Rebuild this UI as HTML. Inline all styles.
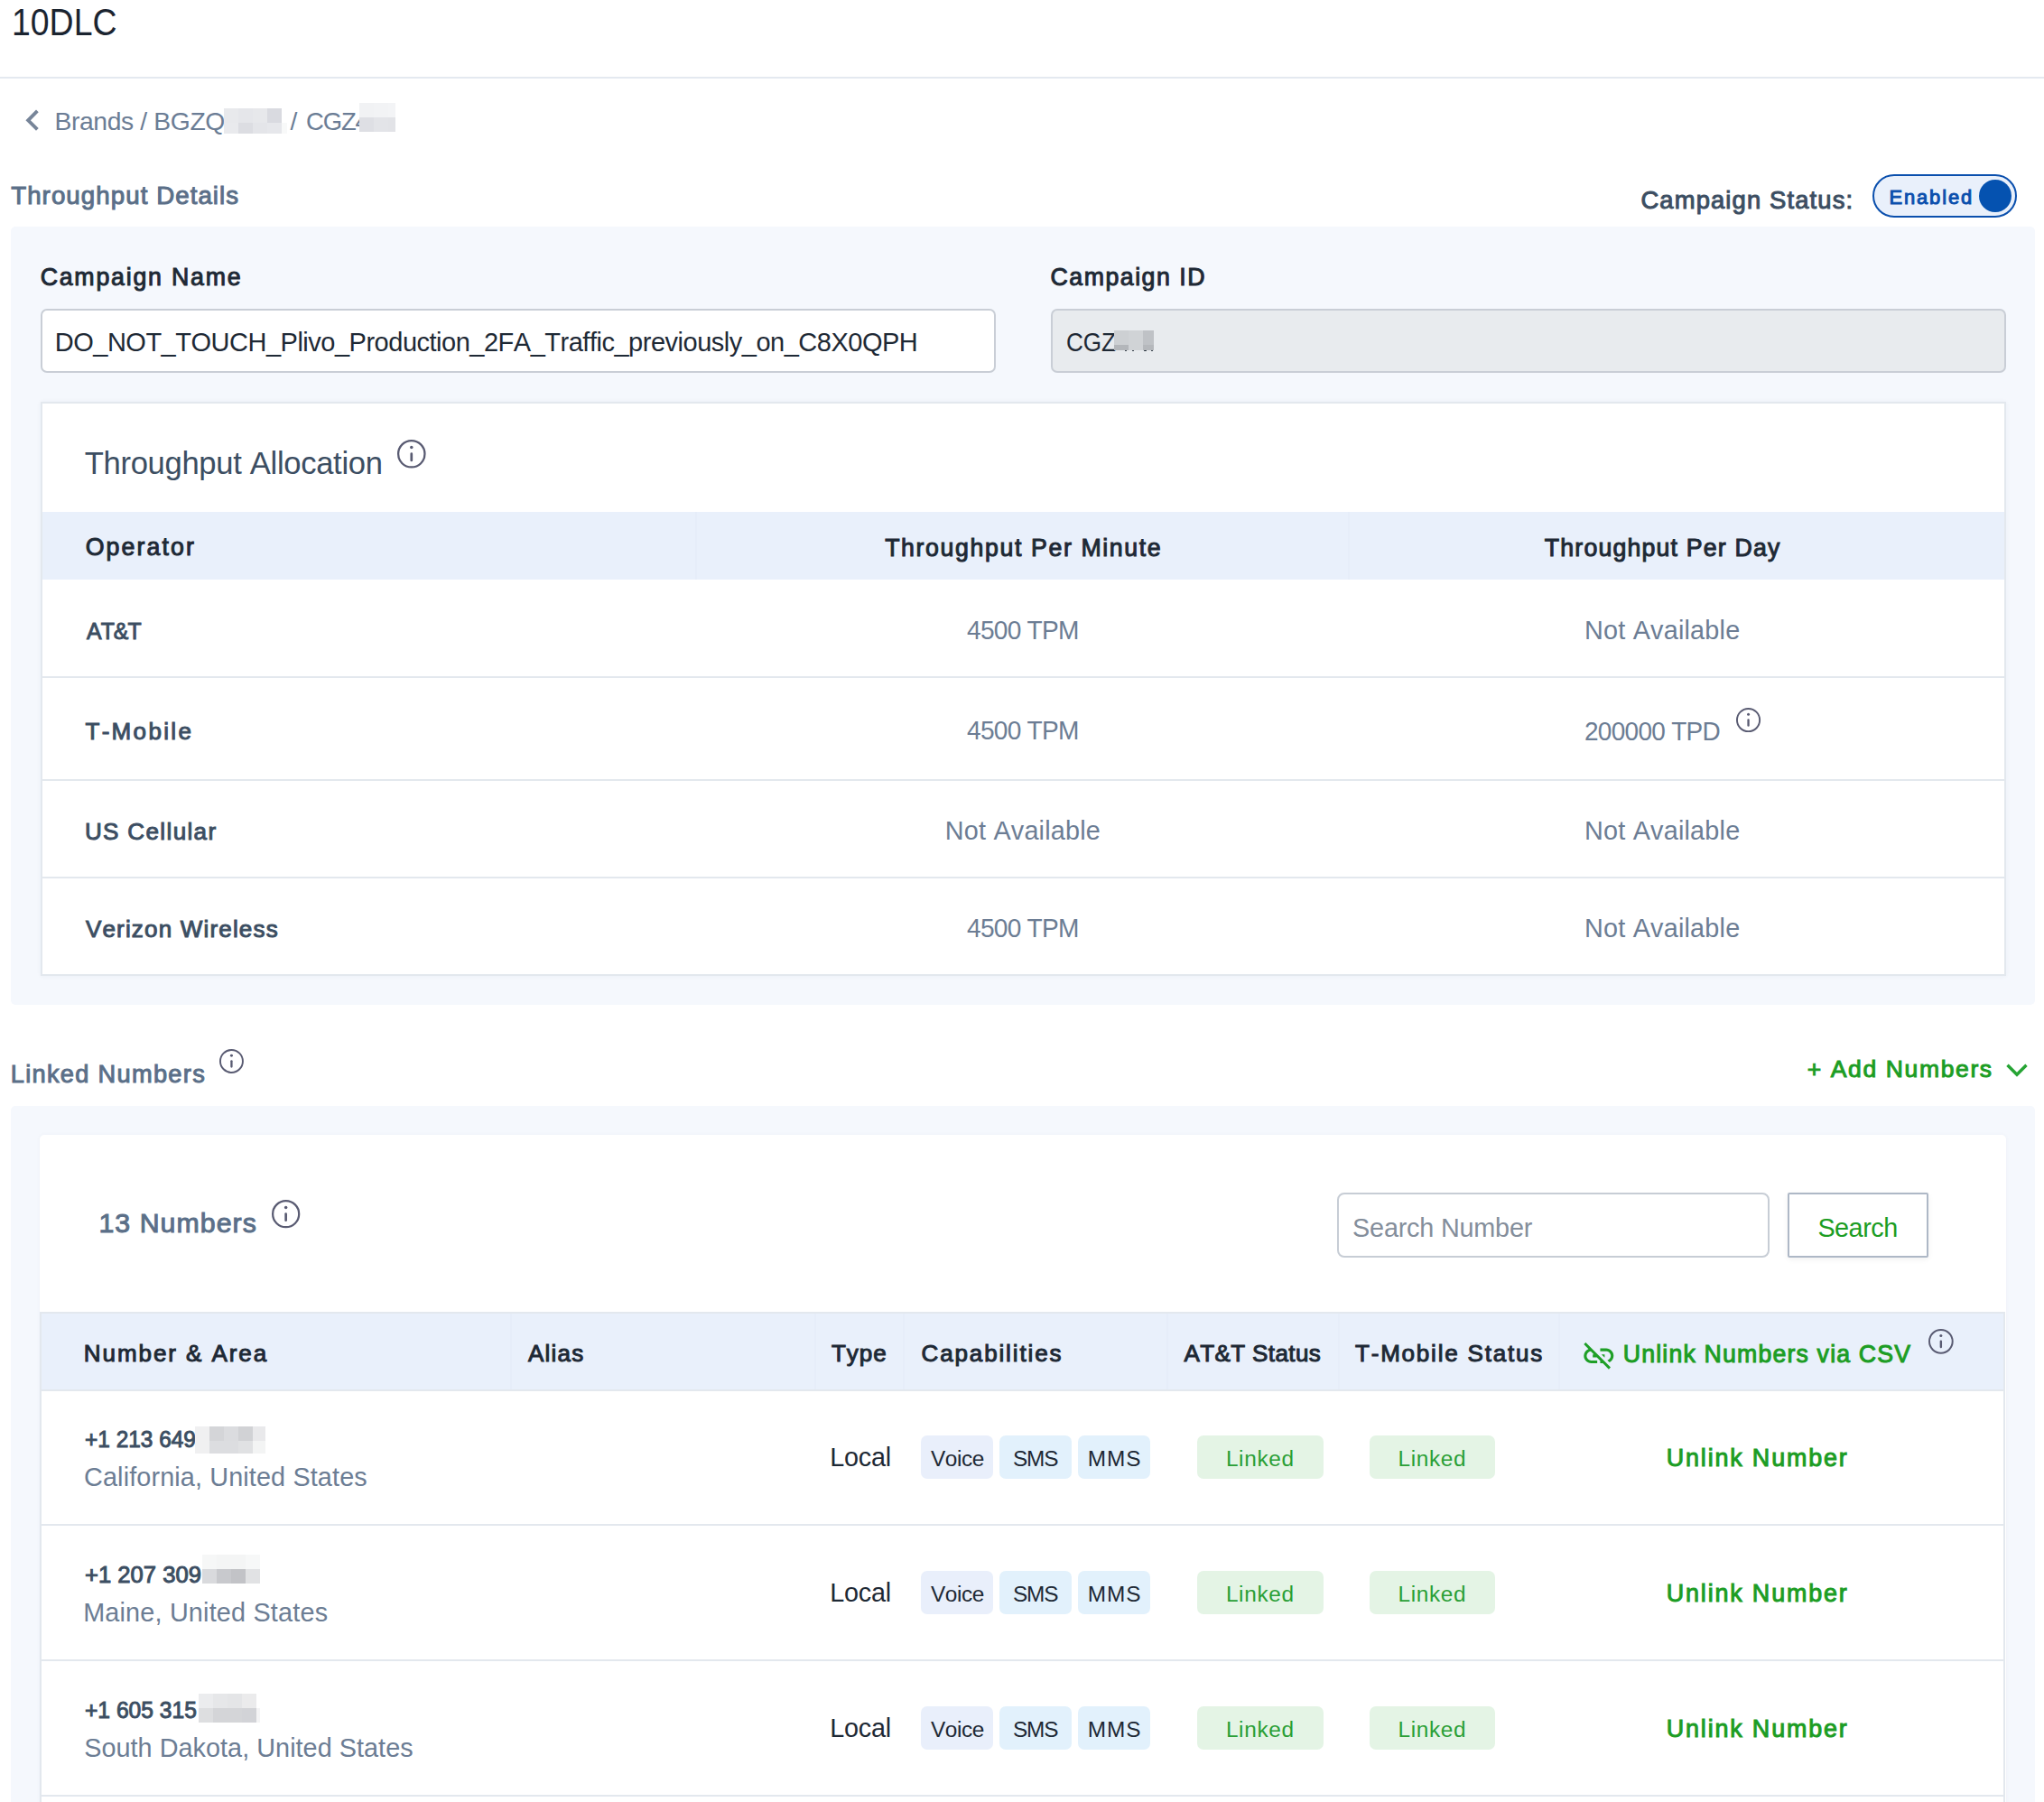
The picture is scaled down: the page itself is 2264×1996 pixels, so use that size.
<!DOCTYPE html>
<html><head><meta charset="utf-8"><title>10DLC</title>
<style>
html,body{margin:0;padding:0;}
body{width:2264px;height:1996px;position:relative;overflow:hidden;background:#fff;font-family:"Liberation Sans",sans-serif;}
.t{position:absolute;white-space:pre;font-kerning:none;font-variant-ligatures:none;}
.b{position:absolute;}
</style></head><body>
<span class="t" style="left:13.05px;top:2.85px;font-size:42.6px;line-height:42.6px;color:#1b2430;transform:scaleX(0.8784);transform-origin:0 0;">10DLC</span>
<div class="b" style="left:0px;top:85px;width:2264px;height:2px;background:#e4e9f0"></div>
<svg class="b" style="left:12.8px;top:109.8px" width="46.3" height="46.3" viewBox="0 0 24 24"><path d="M15.41 7.41L14 6l-6 6 6 6 1.41-1.41L10.83 12z" fill="#778599"/></svg>
<span class="t" style="left:60.48px;top:120.0px;font-size:28.3px;line-height:28.3px;color:#6b7d95;letter-spacing:-0.38px;">Brands / BGZQ</span>
<div class="b" style="left:248px;top:120px;width:16px;height:16px;background:#e8e9ec"></div>
<div class="b" style="left:248px;top:136px;width:16px;height:12px;background:#e9eaed"></div>
<div class="b" style="left:264px;top:120px;width:16px;height:16px;background:#e5e6ea"></div>
<div class="b" style="left:264px;top:136px;width:16px;height:12px;background:#dcdde2"></div>
<div class="b" style="left:280px;top:120px;width:16px;height:16px;background:#e7e8eb"></div>
<div class="b" style="left:280px;top:136px;width:16px;height:12px;background:#e4e5e9"></div>
<div class="b" style="left:296px;top:120px;width:16px;height:16px;background:#d9dae0"></div>
<div class="b" style="left:296px;top:136px;width:16px;height:12px;background:#e6e7eb"></div>
<span class="t" style="left:321.5px;top:120.0px;font-size:28.3px;line-height:28.3px;color:#6b7d95;">/</span>
<span class="t" style="left:338.51px;top:120.0px;font-size:28.3px;line-height:28.3px;color:#6b7d95;letter-spacing:-1.18px;transform:scaleX(0.9701);transform-origin:0 0;">CGZ4</span>
<div class="b" style="left:398px;top:114px;width:16px;height:16px;background:#f1f2f4"></div>
<div class="b" style="left:398px;top:130px;width:16px;height:15.5px;background:#dedfe4"></div>
<div class="b" style="left:414px;top:114px;width:16px;height:16px;background:#f2f3f5"></div>
<div class="b" style="left:414px;top:130px;width:16px;height:15.5px;background:#e3e4e8"></div>
<div class="b" style="left:430px;top:114px;width:8px;height:16px;background:#f3f4f6"></div>
<div class="b" style="left:430px;top:130px;width:8px;height:15.5px;background:#e2e3e7"></div>
<div class="b" style="left:312px;top:136px;width:5.6px;height:12px;background:#f8f9f9"></div>
<span class="t" style="left:12.18px;top:203.31px;font-size:27.69px;line-height:27.69px;color:#5b6f88;-webkit-text-stroke:1.0px #5b6f88;letter-spacing:1.06px;">Throughput Details</span>
<span class="t" style="left:1817.41px;top:208.45px;font-size:27.4px;line-height:27.4px;color:#3c4e62;-webkit-text-stroke:1.0px #3c4e62;letter-spacing:1.13px;">Campaign Status:</span>
<div class="b" style="left:2074px;top:193px;width:160px;height:47.6px;background:#e9f0fb;border:2.2px solid #0a4fad;border-radius:24px;box-sizing:border-box"></div>
<div class="b" style="left:2192px;top:199px;width:36px;height:36px;background:#0552b0;border-radius:50%"></div>
<span class="t" style="left:2092.5px;top:208.19px;font-size:21.92px;line-height:21.92px;color:#0a4fad;-webkit-text-stroke:1.0px #0a4fad;letter-spacing:1.88px;">Enabled</span>
<div class="b" style="left:12px;top:251px;width:2242px;height:862px;background:#f5f8fd;border-radius:5px"></div>
<span class="t" style="left:44.64px;top:294.29px;font-size:26.72px;line-height:26.72px;color:#1e2935;-webkit-text-stroke:1.0px #1e2935;letter-spacing:1.79px;">Campaign Name</span>
<span class="t" style="left:1163.54px;top:294.29px;font-size:26.72px;line-height:26.72px;color:#1e2935;-webkit-text-stroke:1.0px #1e2935;letter-spacing:1.5px;">Campaign ID</span>
<div class="b" style="left:45px;top:341.5px;width:1057.5px;height:71.0px;background:#fff;border:2px solid #c9ced6;border-radius:7px;box-sizing:border-box"></div>
<div class="b" style="left:1163.5px;top:341.5px;width:1058.0px;height:71.0px;background:#e8ebee;border:2px solid #c9ced6;border-radius:7px;box-sizing:border-box"></div>
<span class="t" style="left:60.72px;top:364.65px;font-size:29px;line-height:29px;color:#1e2935;letter-spacing:-0.49px;">DO_NOT_TOUCH_Plivo_Production_2FA_Traffic_previously_on_C8X0QPH</span>
<span class="t" style="left:1181.28px;top:364.65px;font-size:29px;line-height:29px;color:#1e2935;transform:scaleX(0.8991);transform-origin:0 0;">CGZ</span>
<div class="b" style="left:1234.2px;top:366px;width:15.8px;height:16px;background:#cdd0d3"></div>
<div class="b" style="left:1234.2px;top:382px;width:15.8px;height:5.6px;background:#b3b6ba"></div>
<div class="b" style="left:1250px;top:366px;width:16px;height:16px;background:#d0d3d6"></div>
<div class="b" style="left:1250px;top:382px;width:16px;height:5.6px;background:#d0d3d6"></div>
<div class="b" style="left:1266px;top:366px;width:12px;height:16px;background:#bfc2c6"></div>
<div class="b" style="left:1266px;top:382px;width:12px;height:5.6px;background:#b5b8bc"></div>
<div class="b" style="left:1245.7px;top:387.6px;width:2.4px;height:1.8px;background:#1e2935;border-radius:1px"></div>
<div class="b" style="left:1254.0px;top:387.6px;width:2.4px;height:1.8px;background:#1e2935;border-radius:1px"></div>
<div class="b" style="left:1267.2px;top:387.6px;width:2.4px;height:1.8px;background:#1e2935;border-radius:1px"></div>
<div class="b" style="left:1275.1px;top:387.6px;width:2.4px;height:1.8px;background:#1e2935;border-radius:1px"></div>
<div class="b" style="left:44.5px;top:445px;width:2177.0px;height:635.5px;background:#fff;border:2px solid #e3e8ee;box-sizing:border-box;box-shadow:0 0 5px rgba(40,60,100,0.05)"></div>
<span class="t" style="left:93.72px;top:495.85px;font-size:34.6px;line-height:34.6px;color:#3c4e62;letter-spacing:-0.31px;">Throughput Allocation</span>
<svg class="b" style="left:437.6px;top:485.2px" width="35.6" height="35.6" viewBox="0 0 35.6 35.6"><circle cx="17.8" cy="17.8" r="14.68" fill="none" stroke="#595b72" stroke-width="2.25"/><circle cx="17.8" cy="10.5" r="1.75" fill="#595b72"/><line x1="17.8" y1="17.65" x2="17.8" y2="24.95" stroke="#595b72" stroke-width="2.7" stroke-linecap="round"/></svg>
<div class="b" style="left:46.5px;top:567px;width:2173.0px;height:75px;background:#e9f0fb"></div>
<div class="b" style="left:769.5px;top:567px;width:2.0px;height:75px;background:#e6edf9"></div>
<div class="b" style="left:1493px;top:567px;width:2px;height:75px;background:#e6edf9"></div>
<span class="t" style="left:94.63px;top:593.29px;font-size:26.72px;line-height:26.72px;color:#1e2935;-webkit-text-stroke:1.0px #1e2935;letter-spacing:2.11px;">Operator</span>
<span class="t" style="left:980.2px;top:594.29px;font-size:26.72px;line-height:26.72px;color:#1e2935;-webkit-text-stroke:1.0px #1e2935;letter-spacing:1.61px;">Throughput Per Minute</span>
<span class="t" style="left:1710.8px;top:594.29px;font-size:26.72px;line-height:26.72px;color:#1e2935;-webkit-text-stroke:1.0px #1e2935;letter-spacing:1.17px;">Throughput Per Day</span>
<div class="b" style="left:46.5px;top:749px;width:2173.0px;height:2px;background:#e3e8ee"></div>
<div class="b" style="left:46.5px;top:863px;width:2173.0px;height:2px;background:#e3e8ee"></div>
<div class="b" style="left:46.5px;top:971px;width:2173.0px;height:2px;background:#e3e8ee"></div>
<span class="t" style="left:95.83px;top:685.63px;font-size:26.04px;line-height:26.04px;color:#3c4e62;-webkit-text-stroke:1.0px #3c4e62;letter-spacing:-0.94px;transform:scaleX(0.9518);transform-origin:0 0;">AT&amp;T</span>
<span class="t" style="left:94.42px;top:796.63px;font-size:26.04px;line-height:26.04px;color:#3c4e62;-webkit-text-stroke:1.0px #3c4e62;letter-spacing:2.32px;">T-Mobile</span>
<span class="t" style="left:93.89px;top:907.63px;font-size:26.04px;line-height:26.04px;color:#3c4e62;-webkit-text-stroke:1.0px #3c4e62;letter-spacing:1.36px;">US Cellular</span>
<span class="t" style="left:94.89px;top:1015.63px;font-size:26.04px;line-height:26.04px;color:#3c4e62;-webkit-text-stroke:1.0px #3c4e62;letter-spacing:1.17px;">Verizon Wireless</span>
<span class="t" style="left:1070.86px;top:683.75px;font-size:28.8px;line-height:28.8px;color:#6c7d94;letter-spacing:-0.76px;transform:scaleX(0.9758);transform-origin:0 0;">4500 TPM</span>
<span class="t" style="left:1755.09px;top:683.75px;font-size:28.8px;line-height:28.8px;color:#6c7d94;letter-spacing:0.2px;">Not Available</span>
<span class="t" style="left:1070.86px;top:794.75px;font-size:28.8px;line-height:28.8px;color:#6c7d94;letter-spacing:-0.76px;transform:scaleX(0.9758);transform-origin:0 0;">4500 TPM</span>
<span class="t" style="left:1754.59px;top:795.75px;font-size:28.8px;line-height:28.8px;color:#6c7d94;letter-spacing:-0.73px;transform:scaleX(0.9715);transform-origin:0 0;">200000 TPD</span>
<svg class="b" style="left:1920.75px;top:781.95px" width="31.1" height="31.1" viewBox="0 0 31.1 31.1"><circle cx="15.55" cy="15.55" r="12.59" fill="none" stroke="#595b72" stroke-width="1.93"/><circle cx="15.55" cy="9.29" r="1.5" fill="#595b72"/><line x1="15.55" y1="15.42" x2="15.55" y2="21.68" stroke="#595b72" stroke-width="2.32" stroke-linecap="round"/></svg>
<span class="t" style="left:1046.79px;top:905.75px;font-size:28.8px;line-height:28.8px;color:#6c7d94;letter-spacing:0.2px;">Not Available</span>
<span class="t" style="left:1755.09px;top:905.75px;font-size:28.8px;line-height:28.8px;color:#6c7d94;letter-spacing:0.2px;">Not Available</span>
<span class="t" style="left:1070.86px;top:1013.75px;font-size:28.8px;line-height:28.8px;color:#6c7d94;letter-spacing:-0.76px;transform:scaleX(0.9758);transform-origin:0 0;">4500 TPM</span>
<span class="t" style="left:1755.09px;top:1013.75px;font-size:28.8px;line-height:28.8px;color:#6c7d94;letter-spacing:0.2px;">Not Available</span>
<span class="t" style="left:11.77px;top:1175.55px;font-size:27.21px;line-height:27.21px;color:#5b6f88;-webkit-text-stroke:1.0px #5b6f88;letter-spacing:1.3px;">Linked Numbers</span>
<svg class="b" style="left:241.45px;top:1160.25px" width="30.9" height="30.9" viewBox="0 0 30.9 30.9"><circle cx="15.45" cy="15.45" r="12.49" fill="none" stroke="#595b72" stroke-width="1.92"/><circle cx="15.45" cy="9.24" r="1.49" fill="#595b72"/><line x1="15.45" y1="15.32" x2="15.45" y2="21.54" stroke="#595b72" stroke-width="2.3" stroke-linecap="round"/></svg>
<span class="t" style="left:2001.7px;top:1171.38px;font-size:26.53px;line-height:26.53px;color:#1c9d24;-webkit-text-stroke:1.0px #1c9d24;letter-spacing:1.62px;">+ Add Numbers</span>
<svg class="b" style="left:2218px;top:1174px" width="32" height="22" viewBox="0 0 32 22"><polyline points="5.5,5.8 16,16.3 26.5,5.8" fill="none" stroke="#26a434" stroke-width="3.4"/></svg>
<div class="b" style="left:12px;top:1225px;width:2242px;height:875px;background:#f5f8fd;border-radius:5px"></div>
<div class="b" style="left:44px;top:1257px;width:2178px;height:843px;background:#fff;border-radius:5px;box-shadow:0 0 5px rgba(40,60,100,0.04)"></div>
<span class="t" style="left:109.49px;top:1340.0px;font-size:30.31px;line-height:30.31px;color:#5b6f88;-webkit-text-stroke:1.0px #5b6f88;letter-spacing:1.03px;">13 Numbers</span>
<svg class="b" style="left:299.35px;top:1327.25px" width="35.3" height="35.3" viewBox="0 0 35.3 35.3"><circle cx="17.65" cy="17.65" r="14.54" fill="none" stroke="#595b72" stroke-width="2.23"/><circle cx="17.65" cy="10.42" r="1.73" fill="#595b72"/><line x1="17.65" y1="17.5" x2="17.65" y2="24.73" stroke="#595b72" stroke-width="2.67" stroke-linecap="round"/></svg>
<div class="b" style="left:1480.5px;top:1321.3px;width:479.5px;height:71.3px;background:#fff;border:2px solid #c7cdd5;border-radius:8px;box-sizing:border-box"></div>
<span class="t" style="left:1498.09px;top:1345.75px;font-size:28.8px;line-height:28.8px;color:#848e9b;letter-spacing:-0.2px;">Search Number</span>
<div class="b" style="left:1979.7px;top:1321.3px;width:156.1px;height:71.3px;background:#fff;border:2px solid #aeb8c6;border-radius:2px;box-sizing:border-box;box-shadow:0 2px 6px rgba(0,0,0,0.06)"></div>
<span class="t" style="left:2013.39px;top:1345.75px;font-size:28.8px;line-height:28.8px;color:#1c9d24;letter-spacing:-0.49px;">Search</span>
<div class="b" style="left:44px;top:1453px;width:2177px;height:543px;border:2px solid #e3e8ee;box-sizing:border-box;border-bottom:none"></div>
<div class="b" style="left:46px;top:1455px;width:2173px;height:83.5px;background:#e9f0fb"></div>
<div class="b" style="left:46px;top:1538.5px;width:2173px;height:2.0px;background:#e3e8ee"></div>
<div class="b" style="left:565px;top:1455px;width:2px;height:83.5px;background:#e6edf9"></div>
<div class="b" style="left:902px;top:1455px;width:2px;height:83.5px;background:#e6edf9"></div>
<div class="b" style="left:1000px;top:1455px;width:2px;height:83.5px;background:#e6edf9"></div>
<div class="b" style="left:1291.5px;top:1455px;width:2.0px;height:83.5px;background:#e6edf9"></div>
<div class="b" style="left:1482px;top:1455px;width:2px;height:83.5px;background:#e6edf9"></div>
<div class="b" style="left:1725.5px;top:1455px;width:2.0px;height:83.5px;background:#e6edf9"></div>
<span class="t" style="left:92.86px;top:1485.63px;font-size:26.04px;line-height:26.04px;color:#1e2935;-webkit-text-stroke:1.0px #1e2935;letter-spacing:1.91px;">Number &amp; Area</span>
<span class="t" style="left:585.05px;top:1485.63px;font-size:26.04px;line-height:26.04px;color:#1e2935;-webkit-text-stroke:1.0px #1e2935;letter-spacing:1.19px;">Alias</span>
<span class="t" style="left:920.92px;top:1485.63px;font-size:26.04px;line-height:26.04px;color:#1e2935;-webkit-text-stroke:1.0px #1e2935;letter-spacing:1.02px;">Type</span>
<span class="t" style="left:1020.48px;top:1485.63px;font-size:26.04px;line-height:26.04px;color:#1e2935;-webkit-text-stroke:1.0px #1e2935;letter-spacing:1.86px;">Capabilities</span>
<span class="t" style="left:1311.45px;top:1485.63px;font-size:26.04px;line-height:26.04px;color:#1e2935;-webkit-text-stroke:1.0px #1e2935;letter-spacing:0.38px;">AT&amp;T Status</span>
<span class="t" style="left:1501.02px;top:1485.63px;font-size:26.04px;line-height:26.04px;color:#1e2935;-webkit-text-stroke:1.0px #1e2935;letter-spacing:1.78px;">T-Mobile Status</span>
<span class="t" style="left:1797.74px;top:1487.29px;font-size:26.72px;line-height:26.72px;color:#1c9d24;-webkit-text-stroke:1.0px #1c9d24;letter-spacing:1.16px;">Unlink Numbers via CSV</span>
<svg class="b" style="left:2134.05px;top:1469.85px" width="31.7" height="31.7" viewBox="0 0 31.7 31.7"><circle cx="15.85" cy="15.85" r="12.86" fill="none" stroke="#595b72" stroke-width="1.97"/><circle cx="15.85" cy="9.45" r="1.53" fill="#595b72"/><line x1="15.85" y1="15.72" x2="15.85" y2="22.12" stroke="#595b72" stroke-width="2.37" stroke-linecap="round"/></svg>
<svg class="b" style="left:1751.0px;top:1481.7px" width="39.6" height="39.6" viewBox="0 0 24 24"><path fill="#1f9f27" d="M17 7h-4v1.9h4c1.71 0 3.1 1.39 3.1 3.1 0 1.43-.98 2.63-2.31 2.98l1.46 1.46C20.88 15.61 22 13.950 22 12c0-2.76-2.24-5-5-5zm-1 4h-2.19l2 2H16zM2 4.27l3.11 3.11C3.29 8.120 2 9.910 2 12c0 2.760 2.240 5 5 5h4v-1.9H7c-1.710 0-3.1-1.390-3.1-3.1 0-1.590 1.210-2.9 2.760-3.070L8.730 11H8v2h2.730L13 15.270V17h1.730l4.010 4L20 19.740 3.270 3 2 4.270z"/></svg>
<span class="t" style="left:93.78px;top:1581.78px;font-size:25.75px;line-height:25.75px;color:#3c4e62;-webkit-text-stroke:1.0px #3c4e62;transform:scaleX(0.9484);transform-origin:0 0;">+1 213 649</span>
<span class="t" style="left:93.04px;top:1621.75px;font-size:28.8px;line-height:28.8px;color:#6c7d94;letter-spacing:0.13px;">California, United States</span>
<div class="b" style="left:216.1px;top:1580.1px;width:15.9px;height:15.7px;background:#f0f0f1"></div>
<div class="b" style="left:216.1px;top:1595.8px;width:15.9px;height:14.0px;background:#f0f0f1"></div>
<div class="b" style="left:232px;top:1580.1px;width:15.8px;height:15.7px;background:#d4d5d8"></div>
<div class="b" style="left:232px;top:1595.8px;width:15.8px;height:14.0px;background:#dcdde0"></div>
<div class="b" style="left:247.8px;top:1580.1px;width:16.2px;height:15.7px;background:#dbdcdf"></div>
<div class="b" style="left:247.8px;top:1595.8px;width:16.2px;height:14.0px;background:#dcdde0"></div>
<div class="b" style="left:264px;top:1580.1px;width:15.8px;height:15.7px;background:#d1d2d5"></div>
<div class="b" style="left:264px;top:1595.8px;width:15.8px;height:14.0px;background:#e0e1e3"></div>
<div class="b" style="left:279.8px;top:1580.1px;width:14.1px;height:15.7px;background:#e9e9eb"></div>
<div class="b" style="left:279.8px;top:1595.8px;width:14.1px;height:14.0px;background:#f3f4f4"></div>
<span class="t" style="left:919.14px;top:1599.75px;font-size:28.8px;line-height:28.8px;color:#1e2935;letter-spacing:-0.19px;">Local</span>
<div class="b" style="left:1020px;top:1590.0px;width:79.8px;height:47.8px;background:#e9effb;border-radius:7px"></div>
<div class="b" style="left:1107.1px;top:1590.0px;width:79.6px;height:47.8px;background:#e2f1fc;border-radius:7px"></div>
<div class="b" style="left:1194px;top:1590.0px;width:79.7px;height:47.8px;background:#e2f1fc;border-radius:7px"></div>
<span class="t" style="left:1030.99px;top:1604.45px;font-size:24.4px;line-height:24.4px;color:#1e2935;letter-spacing:-0.44px;">Voice</span>
<span class="t" style="left:1121.89px;top:1604.45px;font-size:24.4px;line-height:24.4px;color:#1e2935;letter-spacing:-1.07px;">SMS</span>
<span class="t" style="left:1204.8px;top:1604.45px;font-size:24.4px;line-height:24.4px;color:#1e2935;letter-spacing:0.9px;">MMS</span>
<div class="b" style="left:1325.8px;top:1590.0px;width:139.8px;height:47.8px;background:#e4f4e5;border-radius:7px"></div>
<div class="b" style="left:1517.2px;top:1590.0px;width:139.3px;height:47.8px;background:#e4f4e5;border-radius:7px"></div>
<span class="t" style="left:1357.9px;top:1604.45px;font-size:24.4px;line-height:24.4px;color:#2a9f36;letter-spacing:0.65px;">Linked</span>
<span class="t" style="left:1548.5px;top:1604.45px;font-size:24.4px;line-height:24.4px;color:#2a9f36;letter-spacing:0.65px;">Linked</span>
<span class="t" style="left:1845.82px;top:1602.19px;font-size:26.92px;line-height:26.92px;color:#1c9d24;-webkit-text-stroke:1.0px #1c9d24;letter-spacing:1.83px;">Unlink Number</span>
<div class="b" style="left:46px;top:1687.6px;width:2173px;height:2.0px;background:#e3e8ee"></div>
<span class="t" style="left:93.75px;top:1731.78px;font-size:25.75px;line-height:25.75px;color:#3c4e62;-webkit-text-stroke:1.0px #3c4e62;transform:scaleX(0.9952);transform-origin:0 0;">+1 207 309</span>
<span class="t" style="left:92.14px;top:1771.75px;font-size:28.8px;line-height:28.8px;color:#6c7d94;letter-spacing:0.19px;">Maine, United States</span>
<div class="b" style="left:224px;top:1722.1px;width:15.9px;height:15.9px;background:#f6f7f7"></div>
<div class="b" style="left:224px;top:1738px;width:15.9px;height:15.9px;background:#d9dadd"></div>
<div class="b" style="left:239.9px;top:1722.1px;width:15.9px;height:15.9px;background:#f4f5f5"></div>
<div class="b" style="left:239.9px;top:1738px;width:15.9px;height:15.9px;background:#c8c9cd"></div>
<div class="b" style="left:255.8px;top:1722.1px;width:16.1px;height:15.9px;background:#f4f5f5"></div>
<div class="b" style="left:255.8px;top:1738px;width:16.1px;height:15.9px;background:#c2c3c7"></div>
<div class="b" style="left:271.9px;top:1722.1px;width:15.9px;height:15.9px;background:#f7f8f8"></div>
<div class="b" style="left:271.9px;top:1738px;width:15.9px;height:15.9px;background:#e1e2e4"></div>
<span class="t" style="left:919.14px;top:1749.75px;font-size:28.8px;line-height:28.8px;color:#1e2935;letter-spacing:-0.19px;">Local</span>
<div class="b" style="left:1020px;top:1740.0px;width:79.8px;height:47.8px;background:#e9effb;border-radius:7px"></div>
<div class="b" style="left:1107.1px;top:1740.0px;width:79.6px;height:47.8px;background:#e2f1fc;border-radius:7px"></div>
<div class="b" style="left:1194px;top:1740.0px;width:79.7px;height:47.8px;background:#e2f1fc;border-radius:7px"></div>
<span class="t" style="left:1030.99px;top:1754.45px;font-size:24.4px;line-height:24.4px;color:#1e2935;letter-spacing:-0.44px;">Voice</span>
<span class="t" style="left:1121.89px;top:1754.45px;font-size:24.4px;line-height:24.4px;color:#1e2935;letter-spacing:-1.07px;">SMS</span>
<span class="t" style="left:1204.8px;top:1754.45px;font-size:24.4px;line-height:24.4px;color:#1e2935;letter-spacing:0.9px;">MMS</span>
<div class="b" style="left:1325.8px;top:1740.0px;width:139.8px;height:47.8px;background:#e4f4e5;border-radius:7px"></div>
<div class="b" style="left:1517.2px;top:1740.0px;width:139.3px;height:47.8px;background:#e4f4e5;border-radius:7px"></div>
<span class="t" style="left:1357.9px;top:1754.45px;font-size:24.4px;line-height:24.4px;color:#2a9f36;letter-spacing:0.65px;">Linked</span>
<span class="t" style="left:1548.5px;top:1754.45px;font-size:24.4px;line-height:24.4px;color:#2a9f36;letter-spacing:0.65px;">Linked</span>
<span class="t" style="left:1845.82px;top:1752.19px;font-size:26.92px;line-height:26.92px;color:#1c9d24;-webkit-text-stroke:1.0px #1c9d24;letter-spacing:1.83px;">Unlink Number</span>
<div class="b" style="left:46px;top:1837.6px;width:2173px;height:2.0px;background:#e3e8ee"></div>
<span class="t" style="left:93.78px;top:1881.78px;font-size:25.75px;line-height:25.75px;color:#3c4e62;-webkit-text-stroke:1.0px #3c4e62;transform:scaleX(0.9559);transform-origin:0 0;">+1 605 315</span>
<span class="t" style="left:93.19px;top:1921.75px;font-size:28.8px;line-height:28.8px;color:#6c7d94;letter-spacing:0.04px;">South Dakota, United States</span>
<div class="b" style="left:220.1px;top:1876.1px;width:15.9px;height:15.9px;background:#ebecee"></div>
<div class="b" style="left:220.1px;top:1892px;width:15.9px;height:15.7px;background:#dddee0"></div>
<div class="b" style="left:236px;top:1876.1px;width:15.9px;height:15.9px;background:#e6e7e9"></div>
<div class="b" style="left:236px;top:1892px;width:15.9px;height:15.7px;background:#d4d5d8"></div>
<div class="b" style="left:251.9px;top:1876.1px;width:16.1px;height:15.9px;background:#e4e5e7"></div>
<div class="b" style="left:251.9px;top:1892px;width:16.1px;height:15.7px;background:#d4d5d8"></div>
<div class="b" style="left:268px;top:1876.1px;width:15.9px;height:15.9px;background:#ebebec"></div>
<div class="b" style="left:268px;top:1892px;width:15.9px;height:15.7px;background:#d2d3d7"></div>
<div class="b" style="left:283.9px;top:1892px;width:3.9px;height:15.7px;background:#f4f4f5"></div>
<span class="t" style="left:919.14px;top:1899.75px;font-size:28.8px;line-height:28.8px;color:#1e2935;letter-spacing:-0.19px;">Local</span>
<div class="b" style="left:1020px;top:1890.0px;width:79.8px;height:47.8px;background:#e9effb;border-radius:7px"></div>
<div class="b" style="left:1107.1px;top:1890.0px;width:79.6px;height:47.8px;background:#e2f1fc;border-radius:7px"></div>
<div class="b" style="left:1194px;top:1890.0px;width:79.7px;height:47.8px;background:#e2f1fc;border-radius:7px"></div>
<span class="t" style="left:1030.99px;top:1904.45px;font-size:24.4px;line-height:24.4px;color:#1e2935;letter-spacing:-0.44px;">Voice</span>
<span class="t" style="left:1121.89px;top:1904.45px;font-size:24.4px;line-height:24.4px;color:#1e2935;letter-spacing:-1.07px;">SMS</span>
<span class="t" style="left:1204.8px;top:1904.45px;font-size:24.4px;line-height:24.4px;color:#1e2935;letter-spacing:0.9px;">MMS</span>
<div class="b" style="left:1325.8px;top:1890.0px;width:139.8px;height:47.8px;background:#e4f4e5;border-radius:7px"></div>
<div class="b" style="left:1517.2px;top:1890.0px;width:139.3px;height:47.8px;background:#e4f4e5;border-radius:7px"></div>
<span class="t" style="left:1357.9px;top:1904.45px;font-size:24.4px;line-height:24.4px;color:#2a9f36;letter-spacing:0.65px;">Linked</span>
<span class="t" style="left:1548.5px;top:1904.45px;font-size:24.4px;line-height:24.4px;color:#2a9f36;letter-spacing:0.65px;">Linked</span>
<span class="t" style="left:1845.82px;top:1902.19px;font-size:26.92px;line-height:26.92px;color:#1c9d24;-webkit-text-stroke:1.0px #1c9d24;letter-spacing:1.83px;">Unlink Number</span>
<div class="b" style="left:46px;top:1987.6px;width:2173px;height:2.0px;background:#e3e8ee"></div>
</body></html>
